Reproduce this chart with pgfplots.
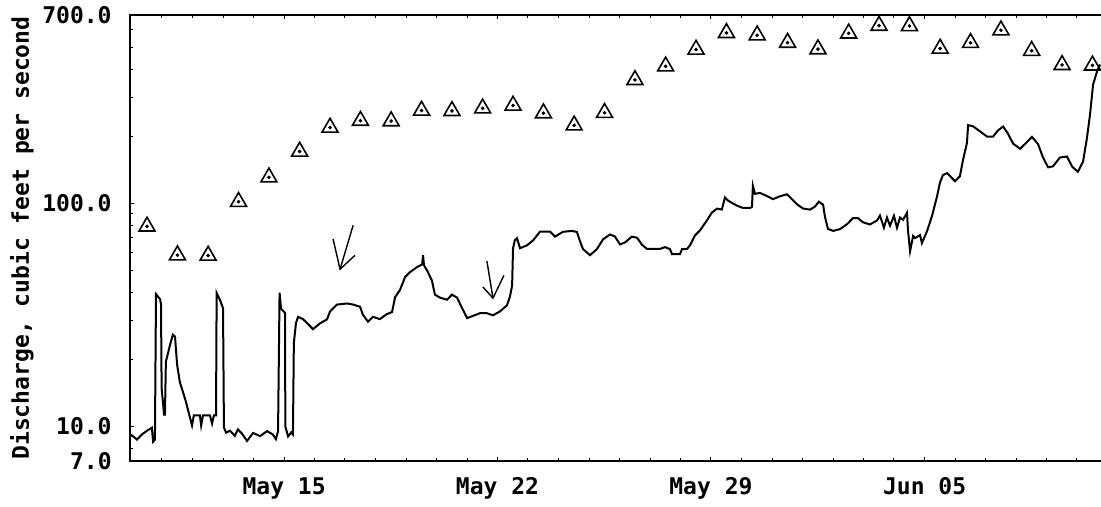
\documentclass[border=0pt]{standalone}
\usepackage{pgfplots}
\pgfplotsset{compat=1.18}
\usepackage{fontspec}
\setmainfont{DejaVu Sans Mono}
\pgfplotstableread{
u v
0.03 9.2
0.23 8.73
0.39 9.2
0.56 9.57
0.72 9.87
0.76 8.54
0.82 8.73
0.855 39.2
0.99 37.2
1.02 35.3
1.04 14.9
1.12 11.3
1.15 11.3
1.18 19.5
1.32 23.3
1.41 25.8
1.48 25.3
1.55 18.9
1.64 15.8
1.74 14.3
1.84 12.9
1.97 11.0
2.04 10.1
2.10 11.2
2.30 11.2
2.34 10.1
2.40 11.2
2.63 11.2
2.70 10.3
2.76 11.2
2.83 11.2
2.85 39.7
2.96 36.9
3.06 33.9
3.09 9.89
3.16 9.38
3.29 9.57
3.45 9.08
3.55 9.69
3.68 9.3
3.85 8.61
4.05 9.35
4.28 9.05
4.51 9.53
4.70 9.2
4.80 8.77
4.87 9.53
4.92 39.8
4.97 33.7
5.10 32.3
5.11 10.0
5.20 9.02
5.30 9.4
5.36 9.2
5.39 23.7
5.46 29.1
5.53 31.0
5.69 30.3
5.82 29.1
6.02 27.3
6.25 29.0
6.48 30.2
6.58 32.8
6.81 35.2
7.14 35.6
7.34 35.2
7.57 34.4
7.66 31.7
7.83 29.5
7.99 31.0
8.22 30.3
8.45 31.9
8.62 32.6
8.72 38.0
8.88 40.9
9.05 46.8
9.21 49.2
9.44 51.8
9.61 53.3
9.64 58.6
9.67 52.8
9.77 50.1
9.93 45.2
10.03 39.0
10.20 37.8
10.43 37.0
10.59 39.0
10.76 37.8
10.92 34.0
11.09 30.6
11.28 31.3
11.51 32.2
11.74 32.2
11.94 31.5
12.17 32.8
12.40 34.9
12.50 38.3
12.57 42.9
12.60 63.0
12.66 68.4
12.73 69.8
12.83 63.0
13.06 64.9
13.26 68.3
13.49 74.8
13.82 74.8
13.98 71.0
14.24 74.6
14.54 75.3
14.70 74.5
14.80 67.9
14.90 62.5
15.13 58.6
15.36 62.4
15.56 69.0
15.79 72.6
15.95 71.1
16.12 65.5
16.28 66.8
16.51 71.0
16.68 70.2
16.84 65.3
17.01 62.5
17.43 62.5
17.60 63.7
17.76 62.4
17.83 59.3
18.09 59.2
18.16 62.4
18.32 62.4
18.42 64.9
18.59 72.0
18.75 75.7
18.98 84.0
19.14 91.0
19.31 94.8
19.47 93.9
19.57 106.4
19.67 103.0
19.84 99.8
19.97 97.7
20.16 95.5
20.39 95.4
20.46 96.5
20.49 120
20.56 110.4
20.72 111.5
20.95 108
21.15 104.5
21.38 107.7
21.61 109.9
21.78 104.3
21.94 99.1
22.14 94.9
22.37 93.8
22.53 96.8
22.66 101.8
22.80 98.7
22.86 87.1
22.96 76.9
23.13 75.3
23.36 76.8
23.59 80.8
23.78 85.9
23.95 85.9
24.11 82.3
24.34 80.5
24.57 83.8
24.67 88.2
24.80 77.9
24.90 86.5
25.00 79.5
25.13 88.0
25.23 77.8
25.33 86.4
25.43 84.5
25.56 90.8
25.59 76.2
25.66 61.1
25.76 71.5
25.82 69.9
25.99 72.1
26.05 66.4
26.22 75.2
26.38 87.7
26.55 107.9
26.64 123.4
26.74 134
26.88 136.8
27.04 129.8
27.14 125.8
27.30 132.5
27.40 156.4
27.53 186.4
27.57 224.5
27.73 221.9
27.96 210.5
28.19 199.6
28.39 199.4
28.55 212.3
28.72 221.2
28.88 205.7
29.05 185.4
29.28 175.9
29.51 188.9
29.67 198.8
29.87 184.6
30.03 161.1
30.20 145.2
30.36 146.6
30.59 160.7
30.82 162.4
30.99 146.3
31.18 138.7
31.35 153.9
31.48 197.2
31.58 250.6
31.68 341
31.81 390.8
31.91 419.8
}\unitvalues
\pgfplotstableread{
u v
0.56 78.9
1.56 58.6
2.57 58.4
3.57 101.8
4.57 131
5.58 171
6.58 219
7.58 235
8.59 234
9.59 261
10.59 260
11.60 267
12.60 275
13.60 254
14.61 224
15.61 255
16.61 358
17.62 412
18.62 490
19.62 582
20.63 568
21.63 526
22.63 492
23.64 579
24.64 627
25.64 625
26.65 495
27.65 525
28.65 598
29.66 484
30.66 418
31.66 416
}\dailyvalues
\begin{document}
\begin{tikzpicture}
\begin{axis}[
  at={(0,0)}, anchor=south west,
  scale only axis, width=487pt, height=223pt,
  xmin=0, xmax=32.04, ymode=log, ymin=7, ymax=700,
  axis line style={line width=0.8pt},
  xtick={5.07,12.09,19.11,26.14},
  xticklabels={May 15,May 22,May 29,Jun 05},
  minor xtick={1.05,2.06,3.06,4.06,6.07,7.07,8.08,9.08,10.08,11.09,13.09,14.10,15.10,16.10,17.11,18.11,20.12,21.12,22.12,23.13,24.13,25.13,27.14,28.14,29.15,30.15,31.15},
  ytick={7,10,100,700},
  yticklabels={7.0,10.0,100.0,700.0},
  minor ytick={8,9,20,30,40,50,60,70,80,90,200,300,400,500,600},
  ytick pos=left,
  tick align=inside,
  major tick length=2pt, minor tick length=1.6pt,
  every tick/.style={black, line width=0.5pt},
  ticklabel style={font=\fontsize{11.5}{13}\selectfont\bfseries},
  yticklabel style={anchor=east, inner sep=0pt, xshift=-9pt},
  xticklabel style={anchor=north, inner sep=0pt, yshift=-8pt},
  ylabel={Discharge, cubic feet per second},
  ylabel style={at={(axis description cs:-0.111,0.5)}, anchor=center, font=\fontsize{11.5}{13}\selectfont\bfseries},
]
\addplot[black, line width=1pt, mark=none] table[x=u, y=v] {\unitvalues};
\addplot[only marks, mark=triangle, mark size=4.6pt, mark options={black, line width=0.8pt}] table[x=u, y=v] {\dailyvalues};
\addplot[only marks, mark=*, mark size=0.7pt, mark options={black}] table[x=u, y=v] {\dailyvalues};
\draw[black, line width=0.7pt] (axis cs:7.34,79.8) -- (axis cs:6.91,50.7);
\draw[black, line width=0.7pt] (axis cs:6.68,69.2) -- (axis cs:6.91,50.7) -- (axis cs:7.40,58.5);
\draw[black, line width=0.7pt] (axis cs:11.74,55.2) -- (axis cs:11.94,37.6);
\draw[black, line width=0.7pt] (axis cs:11.61,42.2) -- (axis cs:11.94,37.6) -- (axis cs:12.30,47.6);
\end{axis}
\pgfresetboundingbox
\path[use as bounding box] (-65pt,-23pt) rectangle (485.5pt,230.5pt);
\end{tikzpicture}
\end{document}
